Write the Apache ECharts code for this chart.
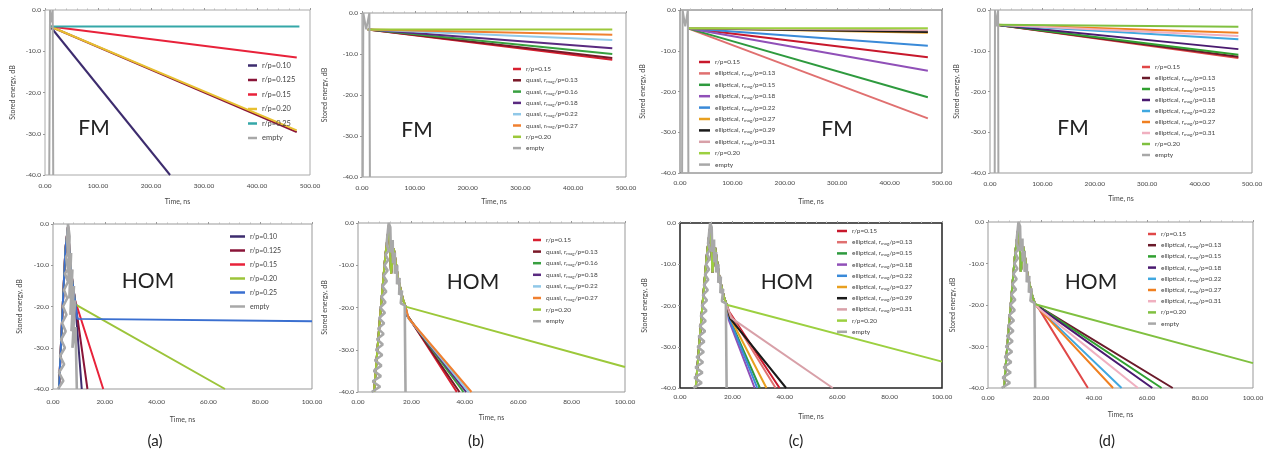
<!DOCTYPE html>
<html><head><meta charset="utf-8">
<script src="https://cdn.jsdelivr.net/npm/echarts@6/dist/echarts.min.js"></script>
<style>html,body{margin:0;padding:0;background:#fff}#c{width:1269px;height:456px}</style>
</head><body><div id="c"></div>
<script>
// ---------------- DATA ----------------
// x axis: Time, ns ; y axis: Stored energy, dB
const yTicks = [-40, -30, -20, -10, 0];
const fmXTicks = [0, 100, 200, 300, 400, 500];
const homXTicks = [0, 20, 40, 60, 80, 100];

// (a) FM
const aFM_labels = ['r/p=0.10','r/p=0.125','r/p=0.15','r/p=0.20','r/p=0.25','empty'];
const aFM_data = [
  [[10,-4],[236,-40]],
  [[10,-4],[475,-29.6]],
  [[10,-4],[475,-11.5]],
  [[10,-4],[475,-29.2]],
  [[10,-4],[480,-4.0]],
  [[8,-40],[9.5,0],[12,-3],[14.5,0],[15.5,-40]]
];
// (b) FM
const bFM_labels = ['r/p=0.15','quasi, r{s|mag}/p=0.13','quasi, r{s|mag}/p=0.16','quasi, r{s|mag}/p=0.18','quasi, r{s|mag}/p=0.22','quasi, r{s|mag}/p=0.27','r/p=0.20','empty'];
const bFM_data = [
  [[11,-4],[474,-11.4]],
  [[11,-4],[474,-11.0]],
  [[11,-4],[474,-10.0]],
  [[11,-4],[474,-8.6]],
  [[11,-4],[474,-6.6]],
  [[11,-4],[474,-5.3]],
  [[11,-4],[474,-4.0]],
  [[1.5,-40],[2.5,0],[8,-4],[14,0],[15,-40]]
];
// (c) FM
const cFM_labels = ['r/p=0.15','elliptical, r{s|mag}/p=0.13','elliptical, r{s|mag}/p=0.15','elliptical, r{s|mag}/p=0.18','elliptical, r{s|mag}/p=0.22','elliptical, r{s|mag}/p=0.27','elliptical, r{s|mag}/p=0.29','elliptical, r{s|mag}/p=0.31','r/p=0.20','empty'];
const cFM_data = [
  [[15,-4.5],[473,-11.6]],
  [[15,-4.5],[473,-26.6]],
  [[15,-4.5],[473,-21.4]],
  [[15,-4.5],[473,-14.9]],
  [[15,-4.5],[473,-8.8]],
  [[15,-4.5],[473,-5.6]],
  [[15,-4.5],[473,-5.4]],
  [[15,-4.5],[473,-5.0]],
  [[15,-4.5],[473,-4.5]],
  [[4,-40],[5,0],[10,-4],[15,0],[16,-40]]
];
// (d) FM
const dFM_labels = ['r/p=0.15','elliptical, r{s|mag}/p=0.13','elliptical, r{s|mag}/p=0.15','elliptical, r{s|mag}/p=0.18','elliptical, r{s|mag}/p=0.22','elliptical, r{s|mag}/p=0.27','elliptical, r{s|mag}/p=0.31','r/p=0.20','empty'];
const dFM_data = [
  [[12,-3.6],[474,-11.8]],
  [[12,-3.6],[474,-11.5]],
  [[12,-3.6],[474,-11.0]],
  [[12,-3.6],[474,-9.6]],
  [[12,-3.6],[474,-7.2]],
  [[12,-3.6],[474,-5.6]],
  [[12,-3.6],[474,-6.4]],
  [[12,-3.6],[474,-4.1]],
  [[9,-40],[9.5,0],[12,-4],[15.5,0],[16,-40]]
];

// HOM pulses
const aHOM_head = [[2.3,-40],[3.6,-22],[4.8,-6],[5.8,-0.5],[6.6,-9],[7.5,-14],[8.5,-18.5]];
const bcdHOM_head = [[6,-40],[8.3,-22],[10.2,-8],[11.6,-0.5],[12.4,-12],[13.4,-6],[15,-13],[16.8,-18],[17.8,-19.8]];
const aHOM_empty = [[1.9,-40],[4.0,-38],[2.3,-36],[4.3,-34],[2.7,-32],[4.6,-30],[3.1,-28],[4.9,-26],[3.5,-24],[5.2,-22],[3.85,-20],[5.5,-18],[4.25,-16],[5.8,-14],[4.6,-12],[5.8,-11],[5.0,-8],[5.85,-7],[5.4,-4],[5.8,0],[6.4,-3],[5.95,-14],[7.0,-7],[6.3,-18],[7.5,-11],[6.7,-22],[8.1,-15],[7.1,-26],[8.5,-18.5],[7.5,-30],[8.7,-25],[9.2,-40]];
const bcdHOM_empty = [[5.1,-40],[8.3,-38.75],[5.5,-37.5],[8.6,-36.25],[5.9,-35],[8.8,-33.75],[6.3,-32.5],[9.1,-31.25],[6.7,-30],[9.3,-28.75],[7.1,-27.5],[9.6,-26.25],[7.5,-25],[9.8,-23.75],[7.9,-22.5],[10.1,-21.25],[8.3,-20],[10.3,-18.75],[8.7,-17.5],[10.6,-16.25],[9.1,-15],[10.8,-13.75],[9.5,-12.5],[11.1,-11.25],[9.9,-10],[11.3,-8.75],[10.3,-7.5],[11.5,-6.5],[10.7,-5],[11.1,-2.5],[11.5,0],[12.1,-1],[12.3,-7],[13.0,-4],[13.1,-9.5],[13.8,-7],[13.8,-12],[14.7,-10],[14.6,-14.5],[15.6,-13],[15.4,-17],[16.5,-16],[16.0,-19],[17.5,-19.5],[17.8,-40]];

// (a) HOM tails
const aHOM_tails = [
  [[11.1,-40]],
  [[13.3,-40]],
  [[19.4,-40]],
  [[8.6,-19.5],[66.4,-40]],
  [[9.4,-23.0],[100,-23.6]]
];
// (b) HOM tails
const bHOM_tails = [
  [[18.2,-21.5],[37,-40]],
  [[18.3,-21.8],[38,-40]],
  [[18.5,-22],[39.5,-40]],
  [[18.6,-22.2],[40.5,-40]],
  [[18.8,-22.5],[41.5,-40]],
  [[19,-22.6],[42.5,-40]],
  [[100,-34.1]]
];
// (c) HOM tails
const cHOM_tails = [
  [[18.8,-21.5],[38,-40]],
  [[18.6,-21.5],[36.5,-40]],
  [[18.8,-23],[30.5,-40]],
  [[18.6,-23.5],[28.5,-40]],
  [[18.7,-23],[29.5,-40]],
  [[18.8,-22.5],[33,-40]],
  [[19.2,-23.2],[40.5,-40]],
  [[19.5,-23],[58.3,-40]],
  [[100,-33.6]]
];
// (d) HOM tails
const dHOM_tails = [
  [[19.3,-21],[37.7,-40]],
  [[19.5,-20.5],[69.7,-40]],
  [[19.5,-20.5],[65.5,-40]],
  [[19.5,-20.7],[62,-40]],
  [[19.4,-21],[50.4,-40]],
  [[19.4,-21],[47.2,-40]],
  [[19.5,-21],[56.6,-40]],
  [[100,-34]]
];

// ---------------- STYLE ----------------
const aFM_colors = ['#3d2c6e','#8a1538','#e8223a','#e8c030','#35a7a8','#a8a8a8'];
const aHOM_colors = ['#3d2c6e','#8a1538','#e8223a','#9cc43a','#3a6fd0','#a8a8a8'];
const b_colors = ['#d82030','#7a1828','#38a040','#5a2a80','#90c8e8','#f08030','#9cc83a','#a8a8a8'];
const c_colors = ['#c8182c','#e07070','#2e9a3e','#9050b8','#3a8ad8','#e8a020','#1a1a1a','#d8a0a8','#9cd040','#a8a8a8'];
const d_colors = ['#e04848','#6a1a2a','#30a030','#4a1a70','#40a8e0','#f08020','#f0b0c0','#80c040','#a8a8a8'];

function homData(head, tails, empty) {
  return tails.map(t => head.concat(t)).concat([empty]);
}

const panels = [
  {key:'ta', labels:aFM_labels, data:aFM_data, colors:aFM_colors, fm:true,
   grid:{left:45,top:10,width:265,height:165}, yGap:28.5, xGap:23, lblM:7,
   leg:{left:248,top:61,w:9,gap:5.5,fs:7.5,lh:9}, border:'#aaa'},
  {key:'tb', labels:bFM_labels, data:bFM_data, colors:b_colors, fm:true,
   grid:{left:362,top:13,width:264,height:164}, yGap:33.5, xGap:21, lblM:7.5,
   leg:{left:513,top:65,w:8,gap:3.3,fs:6.5,lh:8}, border:'#999'},
  {key:'tc', labels:cFM_labels, data:cFM_data, colors:c_colors, fm:true,
   grid:{left:680,top:10,width:262,height:163}, yGap:33.5, xGap:25, lblM:6.5,
   leg:{left:699,top:58,w:11,gap:3.4,fs:6.5,lh:8}, border:'#666'},
  {key:'td', labels:dFM_labels, data:dFM_data, colors:d_colors, fm:true,
   grid:{left:990,top:10,width:262,height:163}, yGap:29.5, xGap:22.5, lblM:7,
   leg:{left:1142,top:63,w:8,gap:3,fs:6.5,lh:8}, border:'#999'},
  {key:'ba', labels:aFM_labels, data:homData(aHOM_head,aHOM_tails,aHOM_empty), colors:aHOM_colors, fm:false,
   grid:{left:53,top:224,width:259,height:165}, yGap:29.5, xGap:27, lblM:9,
   leg:{left:230,top:232,w:15,gap:5,fs:7,lh:9}, border:'#999'},
  {key:'bb', labels:bFM_labels, data:homData(bcdHOM_head,bHOM_tails,bcdHOM_empty), colors:b_colors, fm:false,
   grid:{left:358,top:223,width:267,height:169}, yGap:29.5, xGap:22.5, lblM:6.5,
   leg:{left:533,top:236,w:8,gap:3.6,fs:6.5,lh:8}, border:'#999'},
  {key:'bc', labels:cFM_labels, data:homData(bcdHOM_head,cHOM_tails,bcdHOM_empty), colors:c_colors, fm:false,
   grid:{left:680,top:223,width:262,height:165}, yGap:31.5, xGap:25, lblM:5.5,
   leg:{left:837,top:227,w:10,gap:3.2,fs:6.5,lh:8}, border:'#222', bw:1.5},
  {key:'bd', labels:dFM_labels, data:homData(bcdHOM_head,dHOM_tails,bcdHOM_empty), colors:d_colors, fm:false,
   grid:{left:988,top:222,width:265,height:166}, yGap:31.5, xGap:23.5, lblM:6.5,
   leg:{left:1148,top:230,w:8,gap:3.2,fs:6.5,lh:8}, border:'#999'}
];

const FONT = 'Lato, "Open Sans", sans-serif';
const labelMap = {};
const grids = [], xAxes = [], yAxes = [], series = [], legends = [];

panels.forEach((p, i) => {
  grids.push(Object.assign({show:true, borderColor:p.border, borderWidth:p.bw||1, backgroundColor:'#fff'}, p.grid));
  const xt = p.fm ? fmXTicks : homXTicks;
  xAxes.push({
    gridIndex:i, type:'value', min:xt[0], max:xt[xt.length-1], interval:xt[1]-xt[0],
    name:'Time, ns', nameLocation:'middle', nameGap:p.xGap,
    nameTextStyle:{fontSize:7, color:'#444', fontFamily:FONT},
    axisLine:{show:false}, splitLine:{show:false},
    axisTick:{show:true, inside:true, length:2, lineStyle:{color:'#999'}},
    minorTick:{show:true, splitNumber:5, length:1.5, lineStyle:{color:'#bbb'}},
    axisLabel:{fontSize:6.5, color:'#444', fontFamily:FONT, margin:p.lblM, formatter:v=>v.toFixed(2)}
  });
  yAxes.push({
    gridIndex:i, type:'value', min:yTicks[0], max:yTicks[yTicks.length-1], interval:yTicks[1]-yTicks[0],
    name:'Stored energy, dB', nameLocation:'middle', nameGap:p.yGap,
    nameTextStyle:{fontSize:7, color:'#444', fontFamily:FONT},
    axisLine:{show:false}, splitLine:{show:false},
    axisTick:{show:true, length:2, lineStyle:{color:'#999'}},
    axisLabel:{fontSize:6.5, color:'#444', fontFamily:FONT, margin:4, formatter:v=>v.toFixed(1)}
  });
  const names = [];
  p.data.forEach((d, j) => {
    const nm = p.key + '#' + j;
    names.push(nm);
    labelMap[nm] = p.labels[j];
    const isEmpty = j === p.data.length - 1;
    series.push({
      type:'line', name:nm, xAxisIndex:i, yAxisIndex:i, data:d,
      symbol:'none', showSymbol:false, silent:true, animation:false,
      lineStyle:{color:p.colors[j], width: isEmpty ? (p.fm ? 2 : 2.6) : 2},
      itemStyle:{color:p.colors[j]}, z: isEmpty ? 5 : 3
    });
  });
  legends.push({
    data:names, orient:'vertical', left:p.leg.left, top:p.leg.top,
    icon:'rect', itemWidth:p.leg.w, itemHeight:2.5, itemGap:p.leg.gap,
    padding:0, selectedMode:false,
    formatter:n=>labelMap[n],
    textStyle:{fontSize:p.leg.fs, color:'#444', fontFamily:FONT, lineHeight:p.leg.lh,
      rich:{s:{fontSize:4.5, fontFamily:FONT, color:'#444', padding:[3,0,0,0], lineHeight:p.leg.lh}}}
  });
});

const bigText = (x, y, t, fs) => ({type:'text', x, y, style:{text:t, fontSize:fs, fontFamily:FONT, fill:'#222', align:'center', verticalAlign:'middle'}, z:100});

const option = {
  animation:false,
  backgroundColor:'#fff',
  grid:grids, xAxis:xAxes, yAxis:yAxes, series, legend:legends,
  graphic:[
    bigText(94,128,'FM',21), bigText(417,130,'FM',21), bigText(837,129,'FM',21), bigText(1073,128,'FM',21),
    bigText(148,281,'HOM',21), bigText(473,282,'HOM',21), bigText(787,282,'HOM',21), bigText(1091,282,'HOM',21),
    bigText(155,441,'(a)',15), bigText(476,441,'(b)',15), bigText(796,441,'(c)',15), bigText(1107,441,'(d)',15)
  ]
};
const chart = echarts.init(document.getElementById('c'), null, {renderer:'canvas'});
chart.setOption(option);
</script></body></html>
